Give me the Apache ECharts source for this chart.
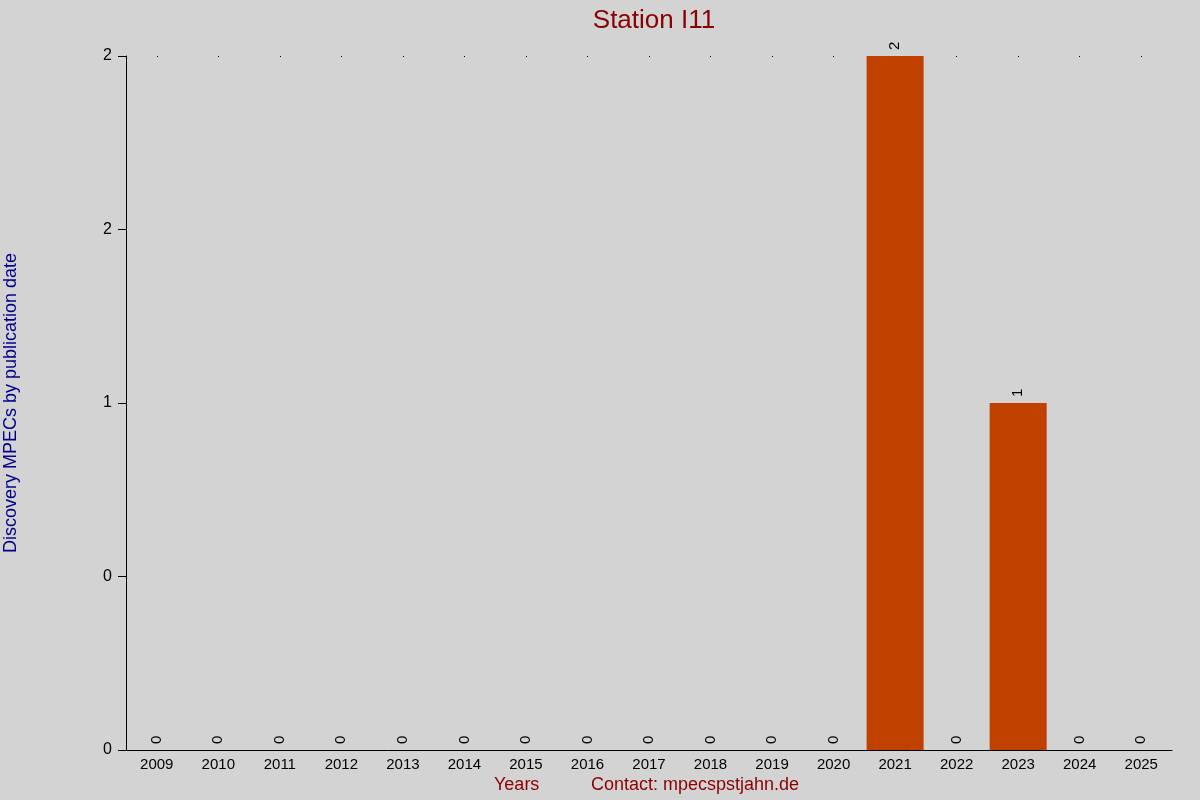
<!DOCTYPE html>
<html><head><meta charset="utf-8">
<script src="https://cdn.jsdelivr.net/npm/echarts@6/dist/echarts.min.js"></script>
<style>html,body{margin:0;padding:0;background:#d3d3d3}#c{width:1200px;height:800px}</style>
</head><body><div id="c"></div>
<script>
const years = ['2009','2010','2011','2012','2013','2014','2015','2016','2017','2018','2019','2020','2021','2022','2023','2024','2025'];
const counts = [0,0,0,0,0,0,0,0,0,0,0,0,2,0,1,0,0];
const yTicks = [0,0.5,1,1.5,2];

function roundHalfEven(v){
  const f = Math.floor(v), d = v - f;
  if (Math.abs(d-0.5) < 1e-9) return (f % 2 === 0) ? f : f+1;
  return Math.round(v);
}
const FONT = 'Liberation Sans, Arial, sans-serif';
const chart = echarts.init(document.getElementById('c'), null, {renderer:'canvas'});
chart.setOption({
  backgroundColor:'#d3d3d3',
  animation:false,
  textStyle:{fontFamily:FONT},
  title:{text:'Station I11',left:649,textAlign:'center',top:3,textStyle:{color:'#8b0000',fontSize:26,fontWeight:'normal',fontFamily:FONT}},
  grid:{left:126,right:28,top:56,bottom:50,containLabel:false,outerBoundsMode:'none'},
  graphic:[
    {type:'text',left:494,top:776,style:{text:'Years',fill:'#8b0000',font:'18px '+FONT}},
    {type:'text',left:591,top:776,style:{text:'Contact: mpecspstjahn.de',fill:'#8b0000',font:'18px '+FONT}}
  ],
  xAxis:[{
    type:'category',data:years,
    axisLine:{lineStyle:{color:'#000',width:1}},
    axisTick:{show:false},
    axisLabel:{color:'#000',fontSize:15,margin:7,fontFamily:FONT}
  },{
    type:'category',data:years,position:'top',
    axisLine:{show:false},
    axisTick:{show:true,alignWithLabel:true,inside:true,length:1,lineStyle:{color:'#000',width:1}},
    axisLabel:{show:false}
  }],
  yAxis:{
    type:'value',min:yTicks[0],max:yTicks[yTicks.length-1],interval:0.5,
    name:'Discovery MPECs by publication date',nameLocation:'middle',nameGap:106,
    nameTextStyle:{color:'#00008b',fontSize:18,fontFamily:FONT},
    axisLine:{show:true,lineStyle:{color:'#000',width:1}},
    axisTick:{show:true,length:8,lineStyle:{color:'#000'}},
    splitLine:{show:false},
    axisLabel:{color:'#000',fontSize:16,margin:14,fontFamily:FONT,formatter:v=>String(roundHalfEven(v))}
  },
  series:[{
    type:'bar',data:counts,barWidth:57,
    itemStyle:{color:'#c04000'},
    label:{show:true,position:'top',rotate:90,align:'left',verticalAlign:'middle',distance:6,color:'#000',fontSize:15,fontFamily:FONT}
  }]
});
</script></body></html>
